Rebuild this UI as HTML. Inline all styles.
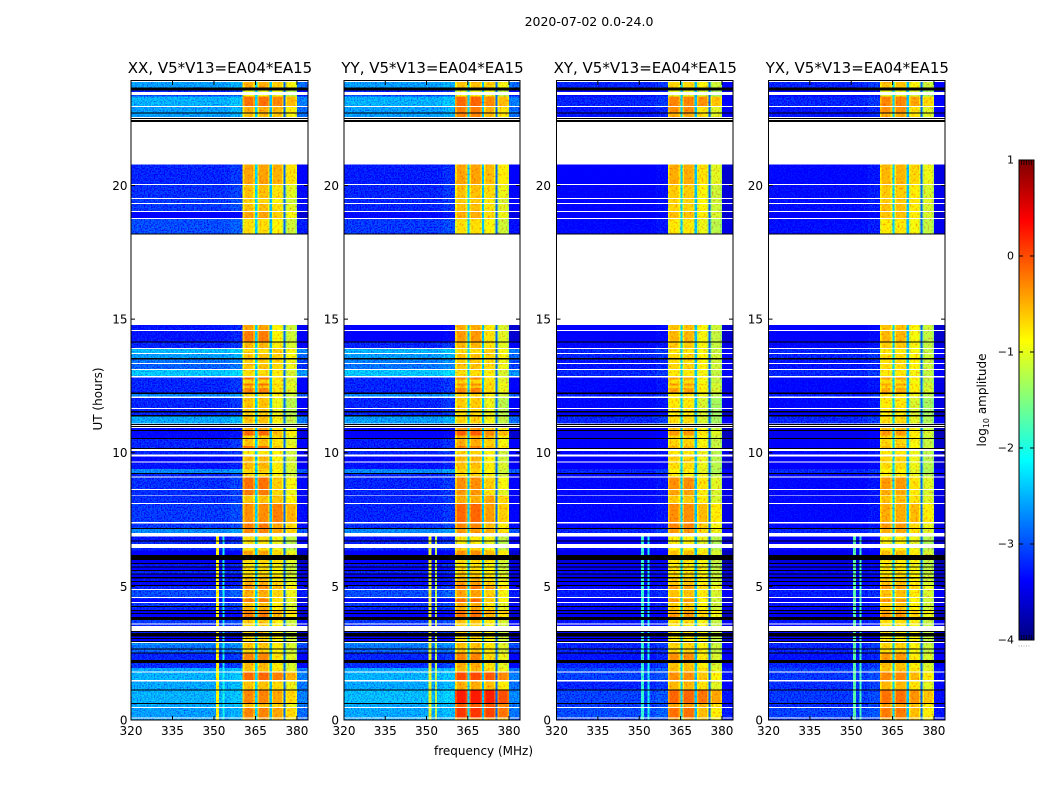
<!DOCTYPE html>
<html>
<head>
<meta charset="utf-8">
<title>2020-07-02 amplitude waterfall</title>
<style>
html,body{margin:0;padding:0;background:#fff;}
svg{display:block;font-family:"DejaVu Sans","Liberation Sans",sans-serif;fill:#000;}
</style>
</head>
<body>
<svg id="chart" xmlns="http://www.w3.org/2000/svg" width="1050" height="800" viewBox="0 0 1050 800">
<defs>
<filter id="speckleLow" filterUnits="userSpaceOnUse" x="0" y="0" width="1050" height="800" color-interpolation-filters="sRGB">
<feTurbulence type="fractalNoise" baseFrequency="0.7" numOctaves="1" seed="4" result="n"/>
<feColorMatrix in="n" type="matrix" values="0 0 0 0 1  2.4 0 0 0 -0.45  0 0 0 0 1  0 0 0 0 0.5" result="m"/>
<feComposite in="SourceGraphic" in2="m" operator="arithmetic" k1="0" k2="1" k3="1" k4="-0.5"/>
</filter>
<filter id="speckleHigh" filterUnits="userSpaceOnUse" x="0" y="0" width="1050" height="800" color-interpolation-filters="sRGB">
<feTurbulence type="fractalNoise" baseFrequency="0.5" numOctaves="1" seed="9" result="n"/>
<feColorMatrix in="n" type="matrix" values="0 0 0 0 1  1.2 0 0 0 0.4  0 0 0 0 1  0 0 0 0 1" result="m"/>
<feComposite in="SourceGraphic" in2="m" operator="arithmetic" k1="1" k2="0" k3="0" k4="0"/>
</filter>
</defs>
<text x="589" y="26" font-size="12.5" text-anchor="middle">2020-07-02 0.0-24.0</text>
<text x="483.5" y="755" font-size="12" text-anchor="middle">frequency (MHz)</text>
<text x="0" y="0" font-size="12" text-anchor="middle" transform="translate(102,399) rotate(-90)">UT (hours)</text>
<text x="0" y="0" font-size="12" text-anchor="middle" transform="translate(986,400) rotate(-90)">log<tspan font-size="8" dy="3">10</tspan><tspan dy="-3"> amplitude</tspan></text>
<g id="panels"></g>
<g id="colorbar"></g>
</svg>
<script>
// ---- categories and axis ticks ----
const panelTitles = ["XX, V5*V13=EA04*EA15","YY, V5*V13=EA04*EA15","XY, V5*V13=EA04*EA15","YX, V5*V13=EA04*EA15"];
const xTicks = [320,335,350,365,380];
const yTicks = [0,5,10,15,20];
const colorTicks = [1,0,-1,-2,-3,-4];

// ---- time rows (hours UT); gaps between rows are unobserved ----
const rowStart = [23.67,23.49,23.33,22.98,22.74,22.56,20.06,19.53,19.34,19.04,
18.79,18.21,14.60,14.16,13.92,13.73,13.54,13.36,13.13,12.88,
12.75,12.60,12.52,12.43,12.25,12.10,11.67,11.57,11.42,11.10,
10.85,10.65,10.55,10.25,10.18,9.93,9.67,9.39,9.24,9.11,
8.64,8.42,8.12,7.41,7.19,6.99,6.71,6.59,6.34,6.17,
5.88,5.75,5.62,5.49,5.36,5.21,5.06,4.90,4.61,4.52,
4.41,4.27,4.12,4.01,3.86,3.62,3.52,3.25,3.07,2.96,
2.81,2.68,2.53,2.24,1.94,1.81,1.50,1.15,0.63,0.48,
0.10,0];
const rowEnd = [23.88,23.56,23.39,23.33,22.93,22.71,20.78,20.01,19.49,19.31,
19.00,18.75,14.78,14.56,14.13,13.88,13.70,13.48,13.32,13.09,
12.81,12.75,12.60,12.52,12.43,12.20,12.04,11.63,11.51,11.35,
10.93,10.82,10.65,10.52,10.25,10.07,9.86,9.64,9.39,9.21,
9.07,8.60,8.40,8.09,7.36,7.14,6.86,6.67,6.44,6.34,
5.98,5.85,5.71,5.58,5.45,5.30,5.17,5.02,4.86,4.57,
4.52,4.37,4.23,4.08,3.97,3.74,3.58,3.29,3.12,3.03,
2.88,2.81,2.64,2.49,2.13,1.94,1.78,1.45,1.13,0.60,
0.45,0.06];

// ---- log10 amplitude, low band (320-360 MHz) ----
const lowXX = [-2.4,-3,-2.8,-2.3,-2.4,-2.4,-3,-2.95,-2.9,-2.9,
-3.3,-2.8,-3.1,-3.1,-3,-2.25,-2.4,-2.6,-2.7,-2.2,
-3,-3,-3,-3,-3,-2.5,-3,-3,-3,-2.35,
-3.1,-3.2,-3.2,-3,-3,-3,-3.2,-3.1,-2.5,-3,
-2.95,-2.95,-2.95,-2.9,-2.9,-2.5,-3.1,-3,-3,-3.3,
-3.4,-3.1,-3.3,-3,-3.3,-3.1,-3.2,-3,-2.8,-3,
-3.3,-2.9,-3,-3.3,-3.3,-2.9,-3,-3,-3.3,-3.3,
-2.5,-2.6,-2.7,-3,-2.95,-2.35,-2.3,-2.35,-2.3,-2.35,
-2.4,-2.4];
const lowYY = [-2.4,-3,-2.8,-2.3,-2.4,-2.4,-3.05,-3,-3,-3,
-3.2,-2.9,-3.3,-3.3,-3,-2.3,-2.4,-2.55,-2.6,-2.2,
-3,-3,-3,-3,-3,-2.5,-3,-3,-3,-2.4,
-3.2,-3.3,-3.3,-3.05,-3.05,-3,-3.2,-3.1,-2.5,-3,
-3,-3,-3,-3,-2.95,-2.5,-3.1,-3,-3,-3.3,
-3.3,-3.1,-3.3,-3,-3.3,-3.1,-3.2,-3,-2.8,-3,
-3.3,-2.9,-3,-3.3,-3.3,-2.9,-3,-3,-3.3,-3.3,
-2.5,-2.6,-2.7,-3,-2.95,-2.35,-2.3,-2.35,-2.25,-2.35,
-2.35,-2.4];
const lowXY = [-3,-3.2,-3.2,-3,-3.1,-3.1,-3.3,-3.25,-3.25,-3.25,
-3.3,-3.2,-3.3,-3.3,-3.2,-3,-3,-3.1,-3.1,-3,
-3.2,-3.2,-3.2,-3.2,-3.2,-3.05,-3.2,-3.2,-3.3,-3,
-3.4,-3.4,-3.4,-3.3,-3.3,-3.2,-3.3,-3.3,-3,-3.2,
-3.2,-3.2,-3.2,-3.2,-3.2,-3,-3.3,-3.3,-3.2,-3.4,
-3.5,-3.3,-3.4,-3.2,-3.4,-3.3,-3.3,-3.2,-3.05,-3.2,
-3.4,-3.1,-3.2,-3.4,-3.4,-3.1,-3.2,-3.2,-3.4,-3.4,
-3,-3,-3,-3.1,-3,-2.8,-2.85,-3,-2.85,-2.9,
-2.8,-2.9];
const lowYX = [-3,-3.2,-3.2,-3,-3.1,-3.1,-3.2,-3.15,-3.15,-3.15,
-3.3,-3.15,-3.3,-3.3,-3.2,-3,-3,-3.1,-3.1,-3,
-3.2,-3.2,-3.2,-3.2,-3.2,-3.05,-3.2,-3.2,-3.3,-3,
-3.4,-3.4,-3.4,-3.3,-3.3,-3.2,-3.3,-3.3,-3,-3.2,
-3.2,-3.2,-3.2,-3.2,-3.2,-3,-3.3,-3.3,-3.2,-3.4,
-3.5,-3.3,-3.4,-3.2,-3.4,-3.3,-3.3,-3.2,-3.05,-3.2,
-3.4,-3.1,-3.2,-3.4,-3.4,-3.1,-3.2,-3.2,-3.4,-3.4,
-3,-3,-3,-3.1,-3,-2.85,-2.9,-2.95,-2.9,-2.95,
-2.85,-2.95];

// ---- log10 amplitude, first two high sub-bands ----
const hiAXX = [-.5,-1,-.9,-.2,-.5,-.6,-.45,-.6,-.7,-.6,
-.45,-.75,-.45,-.25,-.55,-.75,-.6,-.65,-.6,-.75,
-.2,-.7,-.2,-.6,-.3,-.7,-.6,-.65,-.7,-.6,
-.5,-.15,-.7,-.6,-.2,-.8,-.55,-.55,-.7,-.7,
-.2,-.25,-.6,-.35,-.25,-.3,-.75,-.8,-.8,-.45,
-.7,-.8,-.75,-.75,-.7,-.6,-.5,-.35,-.5,-.6,
-.25,-.6,-.55,-.25,-.25,-.65,-.7,-.7,-.75,-.75,
-.6,-.65,-.7,-.3,-.55,-.6,-.15,-.6,-.3,-.6,
-.3,-.5];
const hiAYY = [-.6,-1,-.9,-.15,-.25,-.3,-.45,-.6,-.65,-.6,
-.5,-.75,-.5,-.4,-.55,-.75,-.6,-.65,-.6,-.75,
-.3,-.7,-.35,-.6,-.3,-.7,-.65,-.7,-.75,-.7,
-.4,-.1,-.5,-.5,-.3,-.7,-.55,-.6,-.7,-.7,
-.35,-.4,-.5,-.15,-.3,-.4,-.8,-.85,-.7,-.35,
-.75,-.8,-.75,-.7,-.65,-.55,-.4,-.25,-.45,-.5,
-.15,-.5,-.5,-.2,-.2,-.6,-.7,-.7,-.75,-.75,
-.6,-.6,-.65,-.3,-.5,-.55,0,-.5,.25,-.1,
.1,-.4];
const hiAXY = [-.7,-1,-1,-.3,-.35,-.5,-.5,-.65,-.7,-.7,
-.6,-.8,-.6,-.55,-.65,-.8,-.7,-.75,-.7,-.8,
-.45,-.75,-.4,-.7,-.45,-.8,-.8,-.8,-.85,-.75,
-.6,-.4,-.7,-.7,-.55,-.8,-.7,-.75,-.85,-.85,
-.35,-.45,-.65,-.35,-.3,-.4,-.85,-.85,-.85,-.6,
-.8,-.85,-.8,-.8,-.75,-.7,-.6,-.45,-.6,-.7,
-.4,-.65,-.65,-.45,-.4,-.75,-.8,-.8,-.85,-.85,
-.7,-.7,-.75,-.35,-.6,-.6,-.35,-.55,-.15,-.45,
-.2,-.5];
const hiAYX = [-.6,-1,-1,-.3,-.35,-.5,-.55,-.65,-.65,-.6,
-.6,-.8,-.6,-.55,-.65,-.8,-.75,-.75,-.75,-.8,
-.45,-.75,-.45,-.7,-.5,-.8,-.8,-.8,-.85,-.75,
-.6,-.4,-.7,-.7,-.55,-.8,-.7,-.75,-.85,-.85,
-.4,-.5,-.6,-.5,-.4,-.5,-.85,-.85,-.85,-.6,
-.8,-.85,-.8,-.8,-.75,-.7,-.6,-.45,-.6,-.7,
-.4,-.65,-.65,-.45,-.4,-.75,-.8,-.8,-.85,-.85,
-.7,-.7,-.75,-.4,-.6,-.6,-.3,-.55,-.2,-.45,
-.25,-.5];

// ---- log10 amplitude, last two high sub-bands ----
const hiBXX = [-.7,-1,-1,-.35,-.6,-.7,-.55,-.8,-.9,-.8,
-.7,-.9,-.9,-.9,-.85,-.7,-.7,-.75,-.75,-.85,
-.8,-.85,-.75,-.85,-.8,-.9,-1,-1,-1,-.95,
-.8,-.6,-.8,-.8,-.7,-.9,-.9,-.85,-.9,-.9,
-.7,-.75,-.65,-.3,-.5,-.5,-.95,-1,-1,-.75,
-.8,-.95,-.9,-.9,-.85,-.85,-.75,-.6,-.75,-.8,
-.8,-.85,-.85,-.5,-.6,-.9,-.9,-.9,-.9,-.9,
-.85,-.85,-.9,-.8,-.85,-.8,-.3,-.75,-.5,-.75,
-.5,-.6];
const hiBYY = [-.7,-1,-1,-.35,-.55,-.6,-.6,-.75,-.85,-.8,
-.75,-.9,-.85,-.8,-.8,-.7,-.7,-.75,-.75,-.85,
-.8,-.8,-.7,-.8,-.75,-.9,-1,-1,-1,-.95,
-.7,-.35,-.6,-.7,-.6,-.9,-.9,-.85,-.9,-.9,
-.7,-.8,-.5,-.45,-.6,-.55,-.95,-1,-.95,-.6,
-.85,-.95,-.9,-.85,-.8,-.8,-.7,-.5,-.7,-.75,
-.65,-.8,-.8,-.45,-.55,-.85,-.9,-.9,-.9,-.9,
-.85,-.8,-.85,-.75,-.8,-.75,-.1,-.6,.2,-.1,
0,-.5];
const hiBXY = [-.9,-1.1,-1.1,-.4,-.8,-.8,-.8,-.9,-.9,-.9,
-.85,-1,-.9,-.95,-.95,-.95,-.9,-.9,-.9,-.95,
-.9,-.95,-.85,-.9,-.85,-1,-1.1,-1.1,-1.1,-1.1,
-.95,-.8,-.9,-.95,-.9,-1,-1,-1,-1.05,-1,
-.8,-.85,-.85,-.6,-.7,-.75,-1,-1.05,-1,-.85,
-.95,-1,-.95,-.95,-.9,-.9,-.85,-.75,-.85,-.9,
-.9,-.9,-.9,-.7,-.75,-.95,-.95,-.95,-.95,-.95,
-.95,-.9,-.95,-.85,-.85,-.8,-.65,-.8,-.25,-.6,
-.6,-.7];
const hiBYX = [-.9,-1.1,-1.1,-.5,-.8,-.8,-.75,-.85,-.8,-.85,
-.85,-.95,-.9,-.95,-.95,-.95,-.9,-.9,-.9,-.95,
-.9,-.95,-.85,-.9,-.85,-1,-1.1,-1.1,-1.1,-1.05,
-.95,-.85,-.9,-.95,-.9,-1,-1,-1,-1.05,-1,
-.8,-.85,-.8,-.6,-.75,-.8,-1,-1.05,-1,-.85,
-.95,-1,-.95,-.95,-.9,-.9,-.85,-.75,-.85,-.9,
-.9,-.9,-.9,-.7,-.75,-.95,-.95,-.95,-.95,-.95,
-.95,-.9,-.95,-.85,-.85,-.8,-.6,-.8,-.4,-.65,
-.6,-.7];

// ---- flagged (black) time ranges, hours UT ----
const maskedStart = [23.56,22.71,22.50,22.43,22.39,18.18,14.12,13.48,12.20,11.51,11.35,11.04,10.98,10.82,10.52,10.15,9.21,7.14,6.67,5.98,5.85,5.71,5.58,5.45,5.30,5.17,5.02,4.23,4.08,3.97,3.74,3.29,3.12,3.03,2.92,2.64,2.49,2.13,1.13,0.60];
const maskedEnd = [23.67,22.74,22.53,22.45,22.42,18.21,14.16,13.54,12.25,11.57,11.42,11.07,11.00,10.85,10.55,10.18,9.24,7.19,6.71,6.17,5.88,5.75,5.62,5.49,5.36,5.21,5.06,4.27,4.12,4.01,3.86,3.33,3.25,3.07,2.96,2.68,2.53,2.24,1.15,0.63];

// ---- frequency bands (MHz), kind, and gain ----
const bandStart = [320,350.7,351.8,353,353.8,356,360.4,361,364.2,364.9,365.7,366.2,369.6,370.1,370.9,371.4,374.6,375.1,375.9,376.4,379.4,380];
const bandEnd = [350.7,351.8,353,353.8,356,360.4,361,364.2,364.9,365.7,366.2,369.6,370.1,370.9,371.4,374.6,375.1,375.9,376.4,379.4,380,384];
const bandKind = ["low","rfi1","low","rfi2","low","low","a","a","a","notch","a","a","a","notch","b","b","b","notch","b","b","b","low"];
const bandGain = [-.05,0,-.05,0,-.03,.05,-.3,0,-.25,-2.3,-.3,0,-.25,-2.4,-.25,.03,-.25,-2.85,-.45,-.22,-.45,-.3];

// ---- narrow interference lines seen below 6.9 h ----
const rfiTop = 6.86;
const rfi1Level = [-.9,-1,-1.9,-1.7];
const rfi2Level = [-2,-1.2,-2,-1.8];

// ---- layout (not data) ----
const chart = document.getElementById("chart");
const panelsG = document.getElementById("panels");
const NS = "http://www.w3.org/2000/svg";
const panelBoxes = [{l:131,r:308,pad:3.5},{l:344,r:520,pad:5},{l:556.5,r:733,pad:5.5},{l:768.5,r:945,pad:5.5}];
const TOP = 81, BOTTOM = 720, HOURS_TOP = 23.91;
const lows = [lowXX,lowYY,lowXY,lowYX];
const hiAs = [hiAXX,hiAYY,hiAXY,hiAYX];
const hiBs = [hiBXX,hiBYY,hiBXY,hiBYX];
const pols = ["xx","yy","xy","yx"];

function yScale(h){ return BOTTOM-(h/HOURS_TOP)*(BOTTOM-TOP); }
function xScale(box,f){ return box.l+(f-320)/64*(box.r-box.l); }
function jet(v){
  const t=Math.max(0,Math.min(1,(v+4)/5));
  const c=function(a){ return Math.round(255*Math.max(0,Math.min(1,1.5-Math.abs(4*t-a)))); };
  return "rgb("+c(3)+","+c(2)+","+c(1)+")";
}
function el(tag,parent,attrs){
  const e=document.createElementNS(NS,tag);
  for(const k in attrs){ e.setAttribute(k,attrs[k]); }
  parent.appendChild(e);
  return e;
}
function cellValue(p,row,band){
  const kind=bandKind[band], g=bandGain[band], L=lows[p][row];
  if(kind==="low"){ return L+g; }
  if(kind==="rfi1"){ return rowStart[row]<rfiTop ? rfi1Level[p] : L-.05; }
  if(kind==="rfi2"){ return rowStart[row]<rfiTop ? rfi2Level[p] : L-.05; }
  if(kind==="a"){ return hiAs[p][row]+g; }
  if(kind==="b"){ return hiBs[p][row]+g; }
  return g;
}
function usesLowTexture(row,band){
  const kind=bandKind[band];
  if(kind==="low"){ return true; }
  if(kind==="rfi1"||kind==="rfi2"){ return rowStart[row]>=rfiTop; }
  return false;
}

panelBoxes.forEach(function(box,p){
  const g=el("g",panelsG,{});
  
  

  const cellsLow=el("g",g,{"shape-rendering":"crispEdges",filter:"url(#speckleLow)"});
  
  

  const cellsHigh=el("g",g,{"shape-rendering":"crispEdges",filter:"url(#speckleHigh)"});
  
  

  const flags=el("g",g,{"shape-rendering":"crispEdges"});
  
  

  for(let r=0;r<rowStart.length;r++){
    const y0=yScale(rowEnd[r]), y1=yScale(rowStart[r]);
    for(let b=0;b<bandStart.length;b++){
      const x0=xScale(box,bandStart[b]), x1=xScale(box,bandEnd[b]);
      const parent=usesLowTexture(r,b)?cellsLow:cellsHigh;
      const c=el("rect",parent,{x:x0.toFixed(2),y:y0.toFixed(2),width:(x1-x0).toFixed(2),height:(y1-y0).toFixed(2),fill:jet(cellValue(p,r,b))});
      
      
    }
  }
  for(let m=0;m<maskedStart.length;m++){
    const y0=yScale(maskedEnd[m]), y1=yScale(maskedStart[m]);
    const c=el("rect",flags,{x:box.l,y:y0.toFixed(2),width:box.r-box.l,height:Math.max(1,y1-y0).toFixed(2),fill:"#000"});
    
    
  }

  const frame=el("rect",g,{x:box.l,y:TOP-0.5,width:box.r-box.l,height:BOTTOM-TOP+0.5,fill:"none",stroke:"#000","stroke-width":1});
  
  

  const title=el("text",g,{x:(box.l+box.r)/2+0.5,y:73,"font-size":15,"text-anchor":"middle"});
  title.textContent=panelTitles[p];
  
  

  xTicks.forEach(function(t){
    const x=xScale(box,t);
    const tb=el("line",g,{x1:x,x2:x,y1:BOTTOM,y2:BOTTOM-4,stroke:"#000","stroke-width":1});
    
    
    const tt=el("line",g,{x1:x,x2:x,y1:TOP,y2:TOP+4,stroke:"#000","stroke-width":1});
    
    
    const lab=el("text",g,{x:x,y:735,"font-size":12,"text-anchor":"middle"});
    lab.textContent=String(t);
    
    
  });
  yTicks.forEach(function(t){
    const y=yScale(t);
    const tl=el("line",g,{x1:box.l,x2:box.l+4,y1:y,y2:y,stroke:"#000","stroke-width":1});
    
    
    const tr=el("line",g,{x1:box.r,x2:box.r-4,y1:y,y2:y,stroke:"#000","stroke-width":1});
    
    
    const lab=el("text",g,{x:box.l-box.pad,y:y+4.5,"font-size":12,"text-anchor":"end"});
    lab.textContent=String(t);
    
    
  });
});

// ---- colorbar ----
const cb=document.getElementById("colorbar");
const CB={l:1019,r:1034,t:160,b:640};
function cbY(v){ return CB.b-(v+4)/5*(CB.b-CB.t); }
const ramp=el("g",cb,{"shape-rendering":"crispEdges"});


for(let i=0;i<240;i++){
  const v=-4+i*5/240, y1=cbY(v), y0=cbY(v+5/240);
  const s=el("rect",ramp,{x:CB.l,y:y0.toFixed(2),width:CB.r-CB.l,height:(y1-y0+0.4).toFixed(2),fill:jet(v+5/480)});
  
  
}
const cbFrame=el("rect",cb,{x:CB.l,y:CB.t,width:CB.r-CB.l,height:CB.b-CB.t,fill:"none",stroke:"#000","stroke-width":1});


colorTicks.forEach(function(t){
  const y=cbY(t);
  const a=el("line",cb,{x1:CB.l,x2:CB.l+4,y1:y,y2:y,stroke:"#000","stroke-width":1});
  
  
  const c=el("line",cb,{x1:CB.r,x2:CB.r-4,y1:y,y2:y,stroke:"#000","stroke-width":1});
  
  
  const lab=el("text",cb,{x:CB.l-5,y:y+3.5,"font-size":11,"text-anchor":"end"});
  lab.textContent=(t<0?"\u2212"+Math.abs(t):String(t));
  
  
});
for(let i=1;i<=5;i++){
  const x=CB.l+i*2.5;
  const a=el("line",cb,{x1:x,x2:x,y1:CB.t,y2:CB.t+5,stroke:"#000","stroke-width":0.7});
  
  
  const c=el("line",cb,{x1:x,x2:x,y1:CB.b,y2:CB.b-5,stroke:"#000","stroke-width":0.7});
  
  
  const d=el("rect",cb,{x:x-3,y:645.5,width:1,height:1,fill:"#aaa"});
  
  
}
</script>
</body>
</html>
